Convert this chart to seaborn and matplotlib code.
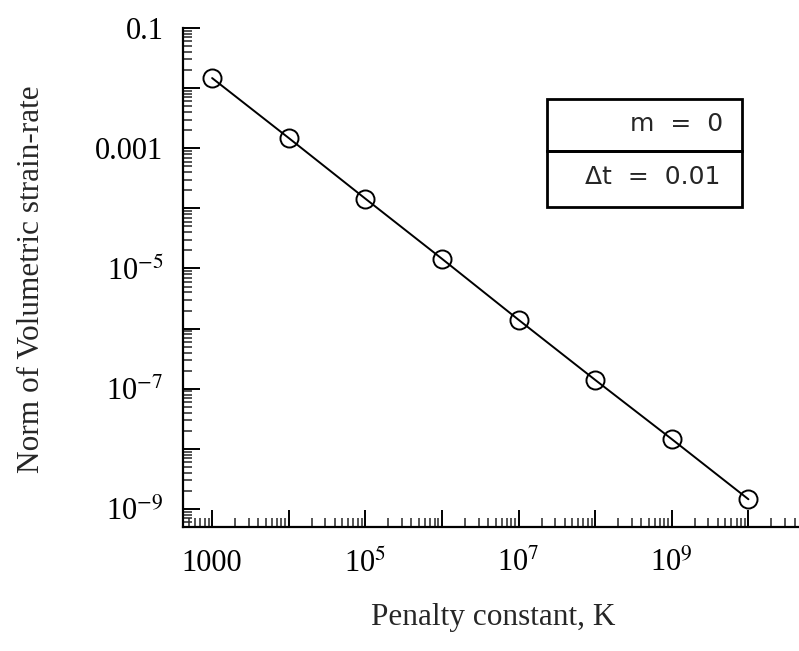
import numpy as np
import pandas as pd
import seaborn as sns
import matplotlib
matplotlib.use("Agg")
import matplotlib.pyplot as plt
from matplotlib.ticker import LogLocator, FixedLocator, NullFormatter, FixedFormatter
from matplotlib.patches import Rectangle

# Data
penalty_K = [1e3, 1e4, 1e5, 1e6, 1e7, 1e8, 1e9, 1e10]
vol_strain_norm = [1.47e-2, 1.48e-3, 1.45e-4, 1.45e-5, 1.40e-6, 1.40e-7, 1.45e-8, 1.45e-9]
x_tick_vals = [1e3, 1e5, 1e7, 1e9]
x_tick_labels = ["1000", r"10$^{5}$", r"10$^{7}$", r"10$^{9}$"]
y_tick_vals = [1e-1, 1e-3, 1e-5, 1e-7, 1e-9]
y_tick_labels = ["0.1", "0.001", r"10$^{-5}$", r"10$^{-7}$", r"10$^{-9}$"]
legend_lines = ["m  =  0", "\u0394t  =  0.01"]

sns.set_style("ticks")
plt.rcParams["font.family"] = ["Liberation Serif", "DejaVu Serif"]
plt.rcParams["mathtext.fontset"] = "stix"

W, H = 799, 651
fig = plt.figure(figsize=(W / 100, H / 100), dpi=100)

def fx(px):
    return px / W

def fy(py):
    return 1 - py / H

left, right, top, bottom = 183, 799, 28, 527
ax = fig.add_axes([fx(left), fy(bottom), fx(right - left), fy(top) - fy(bottom)])

df = pd.DataFrame({"K": penalty_K, "norm": vol_strain_norm})
sns.lineplot(data=df, x="K", y="norm", ax=ax, color="black", linewidth=1.4,
             marker="o", markersize=13, markerfacecolor="none",
             markeredgecolor="black", markeredgewidth=1.4)

ax.set_xscale("log")
ax.set_yscale("log")
ax.set_xlim(10 ** 2.62, 10 ** 10.66)
ax.set_ylim(10 ** -9.3, 1e-1)

for s in ["top", "right"]:
    ax.spines[s].set_visible(False)
for s in ["left", "bottom"]:
    ax.spines[s].set_linewidth(1.6)
    ax.spines[s].set_color("black")

# Major ticks every decade, labels every other decade
xmaj = [10.0 ** k for k in range(3, 11)]
ax.xaxis.set_major_locator(FixedLocator(xmaj))
xlabs = []
for v in xmaj:
    match = [l for tv, l in zip(x_tick_vals, x_tick_labels) if abs(np.log10(tv) - np.log10(v)) < 1e-6]
    xlabs.append(match[0] if match else "")
ax.xaxis.set_major_formatter(FixedFormatter(xlabs))
ax.xaxis.set_minor_locator(LogLocator(base=10, subs=np.arange(2, 10), numticks=50))
ax.xaxis.set_minor_formatter(NullFormatter())

ymaj = [10.0 ** k for k in range(-9, 0)]
ax.yaxis.set_major_locator(FixedLocator(ymaj))
ylabs = []
for v in ymaj:
    match = [l for tv, l in zip(y_tick_vals, y_tick_labels) if abs(np.log10(tv) - np.log10(v)) < 1e-6]
    ylabs.append(match[0] if match else "")
ax.yaxis.set_major_formatter(FixedFormatter(ylabs))
ax.yaxis.set_minor_locator(LogLocator(base=10, subs=np.arange(2, 10), numticks=50))
ax.yaxis.set_minor_formatter(NullFormatter())

ax.tick_params(which="major", direction="in", length=12, width=1.4, labelsize=22,
               colors="black")
ax.tick_params(which="minor", direction="in", length=6.5, width=1.1)
ax.tick_params(axis="x", which="major", pad=16)
ax.tick_params(axis="y", which="major", pad=14)

ax.set_xlabel("Penalty constant, K", fontsize=22.5)
ax.xaxis.set_label_coords((493 - left) / (right - left), -(618 - bottom) / (bottom - top))
ax.set_ylabel("Norm of Volumetric strain-rate", fontsize=22.5)
ax.yaxis.set_label_coords(-(left - 32) / (right - left), (bottom - 279) / (bottom - top))
ax.xaxis.label.set_va("center")
ax.yaxis.label.set_va("center")

# Parameter box
bx0, bx1, by0, bmid, by1 = 547, 742, 99, 151, 207
for (ya, yb) in [(by0, bmid), (bmid, by1)]:
    fig.patches.append(Rectangle((fx(bx0), fy(yb)), fx(bx1 - bx0), fy(ya) - fy(yb),
                                 transform=fig.transFigure, fill=False,
                                 edgecolor="black", linewidth=2))
fig.text(fx(723), fy(124), legend_lines[0], ha="right", va="center", fontsize=18,
         family=["DejaVu Sans"])
fig.text(fx(720), fy(177), legend_lines[1], ha="right", va="center", fontsize=18,
         family=["DejaVu Sans"])

fig.savefig("out.png", dpi=100)
